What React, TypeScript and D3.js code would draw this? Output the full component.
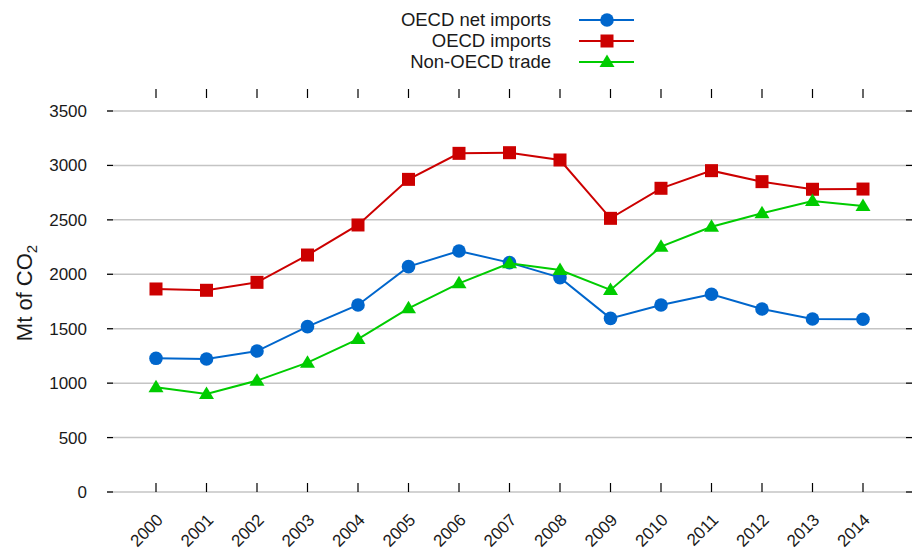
// @ts-nocheck

import React from 'react'
import * as d3 from 'd3'

const years = [2000, 2001, 2002, 2003, 2004, 2005, 2006, 2007, 2008, 2009, 2010, 2011, 2012, 2013, 2014]
const netImports = [1228, 1222, 1295, 1519, 1718, 2070, 2214, 2107, 1969, 1595, 1718, 1816, 1681, 1589, 1587]
const oecdImports = [1865, 1853, 1926, 2177, 2453, 2872, 3111, 3117, 3050, 2514, 2790, 2952, 2851, 2781, 2783]
const nonOecdTrade = [962, 900, 1023, 1188, 1405, 1687, 1917, 2101, 2039, 1856, 2254, 2437, 2560, 2673, 2627]
const yTicks = [0, 500, 1000, 1500, 2000, 2500, 3000, 3500]

const seriesList = [
  { name: 'OECD net imports', values: netImports, color: '#0066cc', marker: 'circle' },
  { name: 'OECD imports', values: oecdImports, color: '#cc0000', marker: 'square' },
  { name: 'Non-OECD trade', values: nonOecdTrade, color: '#00cc00', marker: 'triangle' },
]

const font = '"Liberation Sans", Arial, sans-serif'

const Marker = ({ type, x, y, color }) => {
  if (type === 'circle') return <circle cx={x} cy={y} r={6.8} fill={color} />
  if (type === 'square') return <rect x={x - 6.5} y={y - 6.5} width={13} height={13} fill={color} />
  return <polygon points={`${x},${y - 7.5} ${x + 7.5},${y + 5} ${x - 7.5},${y + 5}`} fill={color} />
}

const App = () => {
  const left = 107
  const right = 912
  const top = 89
  const bottom = 492

  const x = d3.scaleLinear().domain([1999, 2015]).range([105.5, 913.5])
  const y = d3.scaleLinear().domain([0, 3500]).range([bottom, 111])

  const line = d3
    .line()
    .x((d) => x(d[0]))
    .y((d) => y(d[1]))

  return (
    <svg width={915} height={550} style={{ position: 'absolute', left: 0, top: 0 }} fontFamily={font}>
      <rect width={915} height={550} fill="#fff" />
      {/* grid + y ticks */}
      {yTicks.map((t) => (
        <g key={t}>
          <line x1={left} x2={right} y1={y(t)} y2={y(t)} stroke="#c4c4c4" strokeWidth={1.5} />
          <line x1={left} x2={left + 6} y1={y(t)} y2={y(t)} stroke="#000" strokeWidth={1.2} />
          <line x1={right - 6} x2={right} y1={y(t)} y2={y(t)} stroke="#000" strokeWidth={1.2} />
          <text x={87} y={y(t)} dy="0.35em" textAnchor="end" fontSize={17} fill="#1a1a1a">
            {t}
          </text>
        </g>
      ))}
      {/* x ticks */}
      {years.map((yr) => (
        <g key={yr}>
          <line x1={x(yr)} x2={x(yr)} y1={bottom} y2={bottom - 9} stroke="#000" strokeWidth={1.2} />
          <line x1={x(yr)} x2={x(yr)} y1={top} y2={top + 9} stroke="#000" strokeWidth={1.2} />
          <text
            transform={`translate(${x(yr) + 8},${521}) rotate(-45)`}
            textAnchor="end"
            fontSize={17}
            fill="#1a1a1a"
          >
            {yr}
          </text>
        </g>
      ))}
      {/* y label */}
      <text transform="translate(32,293) rotate(-90)" textAnchor="middle" fontSize={22} fill="#1a1a1a">
        Mt of CO
        <tspan fontSize={15} dy={5}>
          2
        </tspan>
      </text>
      {/* series */}
      {seriesList.map((s) => {
        const pts = years.map((yr, i) => [yr, s.values[i]])
        return (
          <g key={s.name}>
            <path d={line(pts)} fill="none" stroke={s.color} strokeWidth={2} />
            {pts.map((p) => (
              <Marker key={p[0]} type={s.marker} x={x(p[0])} y={y(p[1])} color={s.color} />
            ))}
          </g>
        )
      })}
      {/* legend */}
      {seriesList.map((s, i) => {
        const ly = 20 + i * 21
        return (
          <g key={s.name}>
            <text x={551} y={ly} dy="0.35em" textAnchor="end" fontSize={18.5} fill="#1a1a1a">
              {s.name}
            </text>
            <line x1={579} x2={634} y1={ly} y2={ly} stroke={s.color} strokeWidth={2} />
            <Marker type={s.marker} x={607} y={ly} color={s.color} />
          </g>
        )
      })}
    </svg>
  )
}

export default App
